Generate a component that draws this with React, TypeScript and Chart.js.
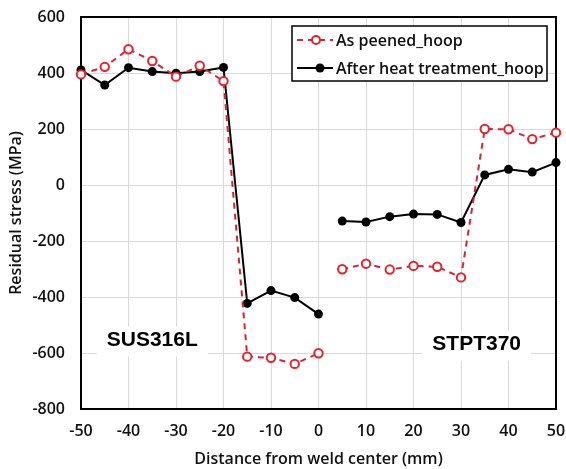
import React, { useEffect, useRef } from "react";
import { Chart, registerables } from "chart.js";

Chart.register(...registerables);

// Distance from weld center (mm)
const distances = [-50, -45, -40, -35, -30, -25, -20, -15, -10, -5, 0, 5, 10, 15, 20, 25, 30, 35, 40, 45, 50];
// Residual stress (MPa)
const asPeenedHoop = [395, 422, 485, 443, 387, 426, 371, -613, -617, -639, -601, -301, -281, -302, -289, -292, -330, 200, 199, 164, 187];
const afterHeatHoop = [411, 357, 419, 405, 399, 405, 420, -423, -377, -402, -461, -129, -132, -113, -104, -105, -134, 36, 56, 46, 80];
// The line is broken between these two distances (two different materials)
const gapBetween = [0, 5];

const seriesNames = ["As peened_hoop", "After heat treatment_hoop"];
const yTicks = [-800, -600, -400, -200, 0, 200, 400, 600];
const xTicks = [-50, -40, -30, -20, -10, 0, 10, 20, 30, 40, 50];

const materialLabels = ["SUS316L", "STPT370"];
const materialLabelAt = [
  { x: -35, y: -555 },
  { x: 33.3, y: -570 },
];

const RED_LINE = "#d3243a";
const RED_MARK = "#e8202a";
const TICK_FONT = { family: "'Open Sans', sans-serif", size: 16, weight: "600" as const };

function buildPoints(values: number[]) {
  const pts: { x: number; y: number | null }[] = [];
  distances.forEach((d, i) => {
    pts.push({ x: d, y: values[i] });
    if (d === gapBetween[0]) {
      pts.push({ x: (gapBetween[0] + gapBetween[1]) / 2, y: null });
    }
  });
  return pts;
}

const framePlugin = {
  id: "frameAndLegend",
  beforeDatasetsDraw(chart: any) {
    const { ctx, chartArea } = chart;
    const { left, top, right, bottom } = chartArea;
    const xs = chart.scales.x;
    const ys = chart.scales.y;
    ctx.save();
    // white boxes behind material labels
    ctx.font = "bold 21px 'Liberation Sans', Arial, sans-serif";
    materialLabels.forEach((lab, i) => {
      const px = xs.getPixelForValue(materialLabelAt[i].x);
      const py = ys.getPixelForValue(materialLabelAt[i].y);
      const w = ctx.measureText(lab).width;
      ctx.fillStyle = "#ffffff";
      ctx.fillRect(px - w / 2 - 10, py - 14, w + 20, 30);
    });
    ctx.strokeStyle = "#000";
    ctx.lineWidth = 2;
    ctx.strokeRect(left, top, right - left, bottom - top);
    ctx.restore();
  },
  afterDraw(chart: any) {
    const { ctx, chartArea } = chart;
    const xs = chart.scales.x;
    const ys = chart.scales.y;
    ctx.save();
    // material labels
    ctx.font = "bold 21px 'Liberation Sans', Arial, sans-serif";
    ctx.fillStyle = "#000";
    ctx.textAlign = "center";
    ctx.textBaseline = "middle";
    materialLabels.forEach((lab, i) => {
      ctx.fillText(lab, xs.getPixelForValue(materialLabelAt[i].x), ys.getPixelForValue(materialLabelAt[i].y));
    });

    // legend box
    const bx = chartArea.left + 211;
    const by = chartArea.top + 9;
    const bw = 255;
    const bh = 55;
    ctx.fillStyle = "#fff";
    ctx.fillRect(bx, by, bw, bh);
    ctx.strokeStyle = "#000";
    ctx.lineWidth = 1.5;
    ctx.strokeRect(bx, by, bw, bh);

    const row1 = by + 14;
    const row2 = by + 42;
    const lx0 = bx + 5;
    const lx1 = bx + 41;
    const mx = bx + 24;
    // red dashed sample
    ctx.strokeStyle = RED_LINE;
    ctx.lineWidth = 2;
    ctx.setLineDash([6, 5]);
    ctx.beginPath();
    ctx.moveTo(lx0, row1);
    ctx.lineTo(lx1, row1);
    ctx.stroke();
    ctx.setLineDash([]);
    ctx.beginPath();
    ctx.arc(mx, row1, 4, 0, Math.PI * 2);
    ctx.fillStyle = "#fff";
    ctx.fill();
    ctx.strokeStyle = RED_MARK;
    ctx.lineWidth = 2;
    ctx.stroke();
    // black sample
    ctx.strokeStyle = "#000";
    ctx.lineWidth = 2;
    ctx.beginPath();
    ctx.moveTo(lx0, row2);
    ctx.lineTo(lx1, row2);
    ctx.stroke();
    ctx.beginPath();
    ctx.arc(mx + 4, row2, 4.5, 0, Math.PI * 2);
    ctx.fillStyle = "#000";
    ctx.fill();

    ctx.font = "600 16px 'Open Sans', sans-serif";
    ctx.fillStyle = "#111";
    ctx.textAlign = "left";
    ctx.textBaseline = "middle";
    ctx.fillText(seriesNames[0], bx + 44, row1 + 1);
    ctx.fillText(seriesNames[1], bx + 44, row2 + 1);
    ctx.restore();
  },
};

export default function App() {
  const canvasRef = useRef<HTMLCanvasElement | null>(null);

  useEffect(() => {
    document.body.style.margin = "0";
    const canvas = canvasRef.current;
    if (!canvas) return;
    const chart = new Chart(canvas, {
      type: "line",
      data: {
        datasets: [
          {
            label: seriesNames[0],
            data: buildPoints(asPeenedHoop) as any,
            borderColor: RED_LINE,
            borderWidth: 2,
            borderDash: [6, 5],
            pointRadius: 4.2,
            pointBorderWidth: 2,
            pointBorderColor: RED_MARK,
            pointBackgroundColor: "#fff",
            spanGaps: false,
            clip: false as any,
            tension: 0,
          },
          {
            label: seriesNames[1],
            data: buildPoints(afterHeatHoop) as any,
            borderColor: "#000",
            borderWidth: 2,
            pointRadius: 4.5,
            pointBorderWidth: 0,
            pointBackgroundColor: "#000",
            pointBorderColor: "#000",
            spanGaps: false,
            clip: false as any,
            tension: 0,
          },
        ],
      },
      options: {
        responsive: false,
        animation: false,
        layout: { padding: { left: 0, top: 17, right: 10, bottom: 0 } },
        plugins: {
          legend: { display: false },
          tooltip: { enabled: false },
        },
        scales: {
          x: {
            type: "linear",
            min: -50,
            max: 50,
            afterBuildTicks: (s: any) => {
              s.ticks = xTicks.map((v) => ({ value: v }));
            },
            afterFit: (s: any) => {
              s.height = 60;
              s.paddingLeft = 0;
              s.paddingRight = 0;
            },
            ticks: {
              font: TICK_FONT,
              color: "#111",
              padding: 13,
              maxRotation: 0,
              autoSkip: false,
            },
            grid: { color: "#d9d9d9", lineWidth: 1, drawTicks: false },
            border: { display: false },
            title: {
              display: true,
              text: "Distance from weld center (mm)",
              font: TICK_FONT,
              color: "#111",
              padding: { top: 0, bottom: 0 },
            },
          },
          y: {
            type: "linear",
            min: -800,
            max: 600,
            afterBuildTicks: (s: any) => {
              s.ticks = yTicks.map((v) => ({ value: v }));
            },
            afterFit: (s: any) => {
              s.width = 81;
              s.paddingTop = 0;
              s.paddingBottom = 0;
            },
            ticks: {
              font: TICK_FONT,
              color: "#111",
              padding: 16,
              autoSkip: false,
            },
            grid: { color: "#d9d9d9", lineWidth: 1, drawTicks: false },
            border: { display: false },
            title: {
              display: true,
              text: "Residual stress (MPa)",
              font: TICK_FONT,
              color: "#111",
              padding: { top: 7, bottom: 0 },
            },
          },
        },
      },
      plugins: [framePlugin],
    });
    return () => chart.destroy();
  }, []);

  return (
    <div style={{ width: 566, height: 469, background: "#fff" }}>
      <canvas ref={canvasRef} width={566} height={469} style={{ width: 566, height: 469, display: "block" }} />
    </div>
  );
}
